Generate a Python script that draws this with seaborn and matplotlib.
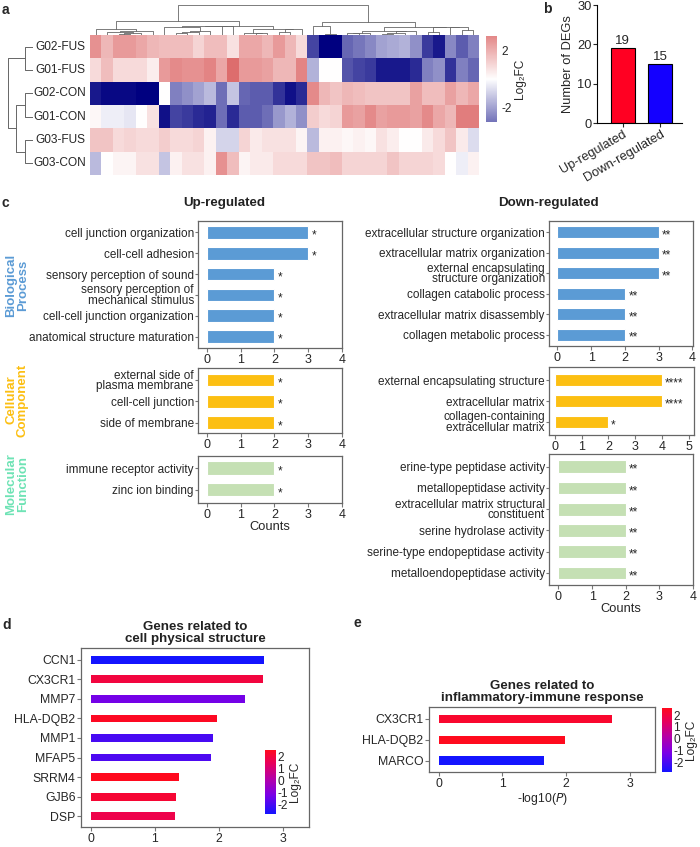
import numpy as np
import pandas as pd
import matplotlib
matplotlib.use("Agg")
import matplotlib.pyplot as plt
import seaborn as sns
from matplotlib.colors import LinearSegmentedColormap, Normalize
from matplotlib.cm import ScalarMappable

# ---------------- data ----------------
# a: heatmap (rows = samples, 34 DEGs; 19 up then 15 down)
row_names = ['G02-FUS', 'G01-FUS', 'G02-CON', 'G01-CON', 'G03-FUS', 'G03-CON']
hm_g02_fus = [1.5, 1.0, 1.4, 1.4, 1.2, 1.0, 0.9, 0.9, 0.9, 0.6, 0.9, 0.9, 0.4, 1.2, 1.2, 1.0, 1.4, 1.0, 0.5,
              -2.2, -3.0, -3.0, -1.8, -1.6, -1.4, -1.1, -1.0, -0.9, -1.3, -2.3, -2.7, -1.4, -1.9, -1.5]
hm_g01_fus = [0.5, 0.9, 0.5, 0.5, 0.5, 0.25, 1.4, 1.6, 1.5, 1.5, 1.7, 1.2, 2.0, 1.4, 1.4, 1.3, 1.0, 1.0, 1.7,
              -0.9, 0.0, 0.0, -2.0, -2.2, -2.3, -2.7, -2.7, -2.7, -2.5, -1.5, -1.3, -2.4, -1.5, -1.8]
hm_g02_con = [-2.7, -2.9, -2.9, -2.9, -3.0, -3.0, 0.0, -1.5, -1.3, -1.1, -0.8, -1.7, -0.7, -1.8, -1.9, -1.9, -2.4, -2.8, -2.5,
              1.6, 1.0, 0.8, 1.0, 0.9, 0.8, 0.8, 0.8, 0.8, 1.3, 0.9, 0.9, 1.3, 1.0, 1.2]
hm_g01_con = [0.1, -0.2, -0.2, -0.3, 0.0, 0.4, -2.8, -2.2, -2.3, -2.5, -2.6, -1.7, -2.5, -1.9, -1.9, -1.7, -1.2, -0.9, -1.3,
              0.7, 0.5, 0.6, 1.4, 1.3, 1.6, 1.3, 1.4, 1.4, 1.3, 1.6, 1.2, 1.0, 1.8, 1.8]
hm_g03_fus = [0.8, 0.8, 0.5, 0.6, 0.5, 0.5, 0.7, 0.5, 0.5, 0.6, 0.2, -0.5, -0.5, 0.6, 0.3, 0.4, 0.4, 0.4, 0.15,
              -0.8, 0.2, 0.2, 0.1, 0.2, 0.1, 0.4, 0.25, 0.0, 0.0, 0.3, 0.5, 0.8, 0.3, -0.4]
hm_g03_con = [-0.8, 0.0, 0.15, 0.15, 0.4, 0.4, -0.7, 0.2, 0.4, 0.4, 0.2, 1.5, 0.9, 0.15, 0.3, 0.3, 0.5, 0.5, 0.5,
              0.8, 0.8, 0.9, 0.6, 0.6, 0.6, 0.6, 0.8, 0.6, 0.6, 0.6, 0.5, 0.0, -0.2, 0.2]
# row tree: (left id, right id, height), new ids start at 6
row_merges = [(0, 1, 0.32), (2, 3, 0.32), (4, 5, 0.32), (7, 8, 0.68), (6, 9, 1.0)]

# b: number of DEGs
deg_labels = ['Up-regulated', 'Down-regulated']
deg_counts = [19, 15]

# c: GO enrichment
up_bp_terms = ['cell junction organization', 'cell-cell adhesion', 'sensory perception of sound',
               'sensory perception of\nmechanical stimulus', 'cell-cell junction organization',
               'anatomical structure maturation']
up_bp_counts = [3, 3, 2, 2, 2, 2]
up_bp_stars = ['*'] * 6
up_cc_terms = ['external side of\nplasma membrane', 'cell-cell junction', 'side of membrane']
up_cc_counts = [2, 2, 2]
up_cc_stars = ['*'] * 3
up_mf_terms = ['immune receptor activity', 'zinc ion binding']
up_mf_counts = [2, 2]
up_mf_stars = ['*'] * 2
down_bp_terms = ['extracellular structure organization', 'extracellular matrix organization',
                 'external encapsulating\nstructure organization', 'collagen catabolic process',
                 'extracellular matrix disassembly', 'collagen metabolic process']
down_bp_counts = [3, 3, 3, 2, 2, 2]
down_bp_stars = ['**'] * 6
down_cc_terms = ['external encapsulating structure', 'extracellular matrix',
                 'collagen-containing\nextracellular matrix']
down_cc_counts = [4, 4, 2]
down_cc_stars = ['****', '****', '*']
down_mf_terms = ['erine-type peptidase activity', 'metallopeptidase activity',
                 'extracellular matrix structural\nconstituent', 'serine hydrolase activity',
                 'serine-type endopeptidase activity', 'metalloendopeptidase activity']
down_mf_counts = [2, 2, 2, 2, 2, 2]
down_mf_stars = ['**'] * 6

# d / e: genes, -log10(P) and Log2FC
d_genes = ['CCN1', 'CX3CR1', 'MMP7', 'HLA-DQB2', 'MMP1', 'MFAP5', 'SRRM4', 'GJB6', 'DSP']
d_logp = [2.70, 2.69, 2.40, 1.96, 1.90, 1.88, 1.38, 1.33, 1.31]
d_fc = [-2.8, 1.9, -1.3, 2.4, -2.0, -1.9, 2.5, 2.1, 1.7]
e_genes = ['CX3CR1', 'HLA-DQB2', 'MARCO']
e_logp = [2.72, 1.98, 1.65]
e_fc = [2.3, 2.6, -2.85]

# ---------------- style ----------------
sns.set_style('white')
plt.rcParams['font.family'] = ['Liberation Sans', 'DejaVu Sans']
plt.rcParams['font.size'] = 8.5
plt.rcParams['axes.unicode_minus'] = False

W, H = 700, 847
fig = plt.figure(figsize=(W / 100, H / 100), dpi=100)


def box(x0, y0, x1, y1):
    # pixel box (top-left origin) -> figure fraction
    return [x0 / W, 1 - y1 / H, (x1 - x0) / W, (y1 - y0) / H]


def adjacent_linkage(X):
    # average linkage, only neighbouring clusters may merge (keeps display order)
    groups = [[i] for i in range(len(X))]
    pos = [i + 0.5 for i in range(len(X))]
    hgt = [0.0] * len(X)
    links = []
    while len(groups) > 1:
        d = [np.mean(np.linalg.norm(X[groups[k]][:, None, :] - X[groups[k + 1]][None, :, :], axis=2))
             for k in range(len(groups) - 1)]
        k = int(np.argmin(d))
        h = max(d[k], hgt[k], hgt[k + 1])
        links.append((pos[k], hgt[k], pos[k + 1], hgt[k + 1], h))
        groups[k:k + 2] = [groups[k] + groups[k + 1]]
        pos[k:k + 2] = [(pos[k] + pos[k + 1]) / 2]
        hgt[k:k + 2] = [h]
    return links


def panel_letter(x, y, s):
    fig.text(x / W, 1 - y / H, s, fontsize=10, fontweight='bold', va='center', ha='left')


# ---------------- a: heatmap ----------------
hm = pd.DataFrame([hm_g02_fus, hm_g01_fus, hm_g02_con, hm_g01_con, hm_g03_fus, hm_g03_con], index=row_names)
hm_cmap = LinearSegmentedColormap.from_list('nwf', ['navy', 'white', '#CD2626'])

ax_hm = fig.add_axes(box(90, 35, 479, 175))
cax_hm = fig.add_axes(box(486, 36, 497, 122))
sns.heatmap(hm, cmap=hm_cmap, vmin=-3, vmax=3, ax=ax_hm, cbar_ax=cax_hm,
            xticklabels=False, yticklabels=row_names)
ax_hm.tick_params(axis='y', length=0, pad=3, labelsize=8.6)
ax_hm.set_yticklabels(row_names, rotation=0)
ax_hm.set_ylabel('')
cb = ax_hm.collections[0].colorbar
cb.solids.set_alpha(0.55)
cb.outline.set_visible(False)
cb.set_ticks([-2, 2])
cb.ax.tick_params(length=0, labelsize=8.6, pad=3)
cb.set_label('Log₂FC', fontsize=8.6, labelpad=2)

# column dendrogram
ax_cd = fig.add_axes(box(90, 3, 479, 35))
for xl, hl, xr, hr, h in adjacent_linkage(hm.T.values):
    ax_cd.plot([xl, xl, xr, xr], [hl, h, h, hr], color='#666666', lw=0.6)
ax_cd.set_xlim(0, hm.shape[1])
ax_cd.set_ylim(0, None)
ax_cd.axis('off')

# row dendrogram
ax_rd = fig.add_axes(box(8, 35, 33, 175))
rpos = {i: i + 0.5 for i in range(len(row_names))}
rh = {i: 0.0 for i in range(len(row_names))}
for n, (a, b, h) in enumerate(row_merges):
    ax_rd.plot([rh[a], h, h, rh[b]], [rpos[a], rpos[a], rpos[b], rpos[b]], color='#666666', lw=0.7)
    new = len(row_names) + n
    rpos[new] = (rpos[a] + rpos[b]) / 2
    rh[new] = h
ax_rd.set_xlim(1.0, 0)
ax_rd.set_ylim(len(row_names), 0)
ax_rd.axis('off')
panel_letter(2, 10, 'a')

# ---------------- b: DEG counts ----------------
ax_b = fig.add_axes(box(597, 5, 682, 123))
sns.barplot(x=deg_labels, y=deg_counts, hue=deg_labels, palette=['#ff0022', '#1400ff'], saturation=1,
            legend=False, edgecolor='black', linewidth=0.8, width=0.64, ax=ax_b)
for c in ax_b.containers:
    ax_b.bar_label(c, fontsize=9.5, padding=1)
ax_b.set_xlim(-0.69, 1.58)
ax_b.set_ylim(0, 30)
ax_b.set_yticks([0, 10, 20, 30])
ax_b.set_ylabel('Number of DEGs', fontsize=9.3, labelpad=2)
ax_b.tick_params(axis='both', length=3, labelsize=9.3, left=True, bottom=True, pad=1)
plt.setp(ax_b.get_xticklabels(), rotation=30, ha='right', rotation_mode='anchor')
for s in ['top', 'right']:
    ax_b.spines[s].set_visible(False)
for s in ['left', 'bottom']:
    ax_b.spines[s].set_color('black')
    ax_b.spines[s].set_linewidth(0.8)
panel_letter(543, 9, 'b')

# ---------------- c: GO enrichment ----------------
BP_COL, CC_COL, MF_BAR, MF_TXT = '#5b9bd5', '#fcbf12', '#c5e0b4', '#6ee3b5'


def go_panel(rect, terms, counts, stars, color, xlim, xticks, ylim):
    ax = fig.add_axes(box(*rect))
    sns.barplot(x=counts, y=terms, color=color, saturation=1, orient='h', width=0.6,
                edgecolor='white', linewidth=0.8, ax=ax)
    for i, (c, s) in enumerate(zip(counts, stars)):
        ax.text(c + 0.1, i + 0.15, s, va='center', ha='left', fontsize=8.5)
    ax.set_xlim(*xlim)
    ax.set_ylim(*ylim)
    ax.set_xticks(xticks)
    ax.set_xlabel('')
    ax.set_ylabel('')
    ax.tick_params(axis='y', length=2, color='#777777', labelsize=8.5, pad=1, left=True)
    ax.tick_params(axis='x', length=3, color='#777777', labelsize=9, pad=1, bottom=True)
    for t in ax.get_yticklabels():
        t.set_linespacing(0.82)
    for s in ax.spines.values():
        s.set_visible(True)
        s.set_color('#666666')
        s.set_linewidth(0.9)
    return ax


go_panel((198, 221, 342, 348), up_bp_terms, up_bp_counts, up_bp_stars, BP_COL, (-0.26, 4), range(5), (5.55, -0.55))
go_panel((198, 368, 342, 433), up_cc_terms, up_cc_counts, up_cc_stars, CC_COL, (-0.26, 4), range(5), (2.47, -0.56))
ax_umf = go_panel((198, 456, 342, 503), up_mf_terms, up_mf_counts, up_mf_stars, MF_BAR, (-0.26, 4), range(5), (1.6, -0.55))
ax_umf.set_xlabel('Counts', fontsize=9.3, labelpad=0)
go_panel((549, 221, 693, 346), down_bp_terms, down_bp_counts, down_bp_stars, BP_COL, (-0.25, 4.02), range(5), (5.55, -0.55))
go_panel((549, 367, 694, 435), down_cc_terms, down_cc_counts, down_cc_stars, CC_COL, (-0.22, 5.2), range(6), (2.62, -0.62))
ax_dmf = go_panel((549, 454, 693, 585), down_mf_terms, down_mf_counts, down_mf_stars, MF_BAR, (-0.28, 4.0), range(5), (5.57, -0.6))
ax_dmf.set_xlabel('Counts', fontsize=9.3, labelpad=0)

fig.text(224 / W, 1 - 203 / H, 'Up-regulated', fontsize=9.6, fontweight='bold', ha='center', va='center', color='#222222')
fig.text(548 / W, 1 - 203 / H, 'Down-regulated', fontsize=9.6, fontweight='bold', ha='center', va='center', color='#222222')
fig.text(17 / W, 1 - 285 / H, 'Biological\nProcess', fontsize=9.5, fontweight='bold', color=BP_COL,
         rotation=90, ha='center', va='center', linespacing=0.95)
fig.text(17 / W, 1 - 400 / H, 'Cellular\nComponent', fontsize=9.5, fontweight='bold', color=CC_COL,
         rotation=90, ha='center', va='center', linespacing=0.95)
fig.text(17 / W, 1 - 484 / H, 'Molecular\nFunction', fontsize=9.5, fontweight='bold', color=MF_TXT,
         rotation=90, ha='center', va='center', linespacing=0.95)
panel_letter(2, 203, 'c')

# ---------------- d / e: gene bars ----------------
gene_cmap = LinearSegmentedColormap.from_list(
    'bp', [(0, '#1414ff'), (0.3, '#7a00e6'), (0.55, '#b400a8'), (0.8, '#e8005a'), (1, '#ff0a1e')])


def gene_panel(rect, cbar_rect, genes, logp, fc, title, ylim):
    ax = fig.add_axes(box(*rect))
    norm = Normalize(min(fc), max(fc))
    pal = {g: gene_cmap(norm(v)) for g, v in zip(genes, fc)}
    sns.barplot(x=logp, y=genes, hue=genes, palette=pal, saturation=1, legend=False, orient='h',
                width=0.4, linewidth=0, ax=ax)
    ax.set_xlim(-0.15, 3.4)
    ax.set_ylim(*ylim)
    ax.set_xticks([0, 1, 2, 3])
    ax.set_xlabel('')
    ax.set_ylabel('')
    ax.set_title(title, fontsize=9.6, fontweight='bold', pad=4, color='#222222', linespacing=1.1)
    ax.tick_params(axis='both', length=3, color='#777777', labelsize=8.8, pad=1, left=True, bottom=True)
    for s in ax.spines.values():
        s.set_visible(True)
        s.set_color('#666666')
        s.set_linewidth(0.9)
    cax = fig.add_axes(box(*cbar_rect))
    cbar = fig.colorbar(ScalarMappable(norm=norm, cmap=gene_cmap), cax=cax)
    cbar.outline.set_visible(False)
    cbar.set_ticks([-2, -1, 0, 1, 2])
    cbar.ax.tick_params(length=2, color='white', labelsize=8.6, pad=1, direction='in')
    cbar.set_label('Log₂FC', fontsize=8.6, labelpad=1)
    return ax


gene_panel((81, 648, 309, 827), (265, 750, 276, 814), d_genes, d_logp, d_fc,
           'Genes related to\ncell physical structure', (8.55, -0.6))
ax_e = gene_panel((429, 707, 655, 772), (662, 708, 672, 772), e_genes, e_logp, e_fc,
                  'Genes related to\ninflammatory-immune response', (2.55, -0.57))
ax_e.set_xlabel('-log10($\\it{P}$)', fontsize=8.8, labelpad=1)
panel_letter(2, 625, 'd')
panel_letter(353, 623, 'e')

fig.savefig('out.png', dpi=100)
